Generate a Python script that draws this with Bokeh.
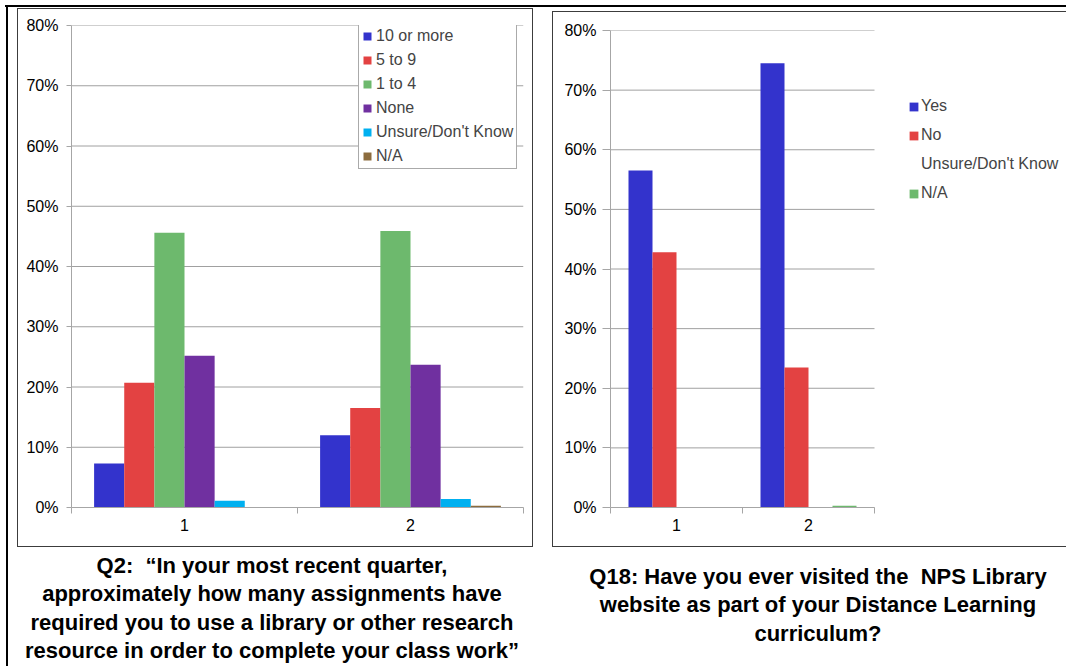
from bokeh.plotting import figure
from bokeh.models import (Range1d, FixedTicker, NumeralTickFormatter, Legend, LegendItem,
                          ColumnDataSource, Div, Spacer)
from bokeh.layouts import row, column
from bokeh.transform import dodge
from bokeh.embed import file_html
from bokeh.resources import INLINE

# ---- data -------------------------------------------------------------
categories = [1, 2]
category_labels = ["1", "2"]
pct_ticks = [0.0, 0.1, 0.2, 0.3, 0.4, 0.5, 0.6, 0.7, 0.8]

q2_series = ["10 or more", "5 to 9", "1 to 4", "None", "Unsure/Don't Know", "N/A"]
q2_ten_or_more = [0.073, 0.120]
q2_five_to_nine = [0.207, 0.165]
q2_one_to_four = [0.456, 0.459]
q2_none = [0.252, 0.237]
q2_unsure = [0.011, 0.014]
q2_na = [0.000, 0.003]
q2_colors = ["#3333CC", "#E34242", "#6DB96D", "#7030A0", "#00B0F0", "#8C6C3E"]

q18_series = ["Yes", "No", "Unsure/Don't Know", "N/A"]
q18_yes = [0.565, 0.745]
q18_no = [0.428, 0.235]
q18_unsure = [0.000, 0.000]
q18_na = [0.000, 0.003]
q18_colors = ["#3333CC", "#E34242", None, "#6DB96D"]

q2_title = ["Q2:&nbsp; \u201cIn your most recent quarter,",
            "approximately how many assignments have",
            "required you to use a library or other research",
            "resource in order to complete your class work\u201d"]
q18_title = ["Q18: Have you ever visited the&nbsp; NPS Library",
             "website as part of your Distance Learning",
             "curriculum?"]

FONT = "Liberation Sans"
GRID = "#A0A0A0"
AXIS = "#A6A6A6"
FRAME = "1px solid #3C3C3C"


def bar_chart(width, height, borders, series, values, colors, tick_out, tick_standoff,
              styles, legend_px=0):
    """Clustered column chart; legend_px widens the plot area to the right so an
    outside legend can sit there, while axis and grid stay on the categories."""
    left, right, top, bottom = borders
    chart_px = width - left - right - legend_px
    x_lo = categories[0] - 0.5
    x_hi = categories[-1] + 0.5
    x_end = x_lo + (x_hi - x_lo) * (chart_px + legend_px) / chart_px
    p = figure(width=width, height=height, output_backend="svg", toolbar_location=None,
               x_range=Range1d(x_lo, x_end), y_range=Range1d(0, pct_ticks[-1]),
               min_border_left=left, min_border_right=right,
               min_border_top=top, min_border_bottom=bottom, styles=styles)
    p.outline_line_color = None
    p.background_fill_color = "white"
    p.border_fill_color = "white"
    p.xgrid.grid_line_color = None
    p.ygrid.grid_line_color = None

    # horizontal gridlines spanning the category area only
    p.segment(x0=[x_lo] * len(pct_ticks), x1=[x_hi] * len(pct_ticks),
              y0=pct_ticks, y1=pct_ticks, line_color=GRID, line_width=1)

    # category axis: labels at the centres, tick marks on the category boundaries
    xa = p.xaxis[0]
    xa.bounds = (x_lo, x_hi)
    xa.ticker = FixedTicker(ticks=categories,
                            minor_ticks=[c - 0.5 for c in categories] + [x_hi])
    xa.major_label_overrides = {c: lab for c, lab in zip(categories, category_labels)}
    xa.major_tick_out = 0
    xa.major_tick_in = 0
    xa.minor_tick_out = 6
    xa.minor_tick_in = 0
    xa.minor_tick_line_color = AXIS
    xa.axis_line_color = AXIS
    xa.major_label_standoff = 5
    xa.major_label_text_font = FONT
    xa.major_label_text_font_size = "16px"
    xa.major_label_text_color = "black"

    ya = p.yaxis[0]
    ya.ticker = FixedTicker(ticks=pct_ticks)
    ya.formatter = NumeralTickFormatter(format="0%")
    ya.major_tick_out = tick_out
    ya.major_tick_in = 0
    ya.minor_tick_out = 0
    ya.minor_tick_in = 0
    ya.major_tick_line_color = AXIS
    ya.axis_line_color = AXIS
    ya.major_label_standoff = tick_standoff
    ya.major_label_text_font = FONT
    ya.major_label_text_font_size = "16px"
    ya.major_label_text_color = "black"

    n = len(series)
    bar_w = 1.0 / (n + 1.5)
    items = []
    for i, (name, vals, col) in enumerate(zip(series, values, colors)):
        src = ColumnDataSource(dict(x=categories, top=vals))
        off = (i - (n - 1) / 2.0) * bar_w
        r = p.vbar(x=dodge("x", off), top="top", bottom=0, width=bar_w, source=src,
                   fill_color=col, line_color=None)
        items.append(LegendItem(label=name, renderers=[r]))
    return p, items


def caption(lines, width, height, inner_w, pad_left, pad_top):
    style = ("width:%dpx;margin-left:%dpx;padding-top:%dpx;text-align:center;"
             "font-family:'Liberation Sans',Arial,sans-serif;font-weight:bold;"
             "font-size:22px;line-height:28.3px;white-space:nowrap;color:black"
             % (inner_w, pad_left, pad_top))
    return Div(text='<div style="%s">%s</div>' % (style, "<br>".join(lines)),
               width=width, height=height, margin=0)


def bar(w, h):
    return Div(text="", width=w, height=h, margin=0, styles={"background-color": "black"})


# ---- Q2 chart ---------------------------------------------------------
left_p, left_items = bar_chart(516, 539, (53, 11, 16, 41), q2_series,
                               [q2_ten_or_more, q2_five_to_nine, q2_one_to_four,
                                q2_none, q2_unsure, q2_na],
                               q2_colors, 5, 8, {"border": FRAME})
left_leg = Legend(items=left_items, location=(287, 338), orientation="vertical",
                  label_text_font=FONT, label_text_font_size="16px",
                  glyph_width=10, glyph_height=10, label_height=18, label_standoff=4,
                  label_width=135, spacing=6, padding=3, margin=0,
                  border_line_color="#555555", border_line_width=1,
                  background_fill_color="white", background_fill_alpha=1)
left_p.add_layout(left_leg)

# ---- Q18 chart --------------------------------------------------------
right_p, right_items = bar_chart(514, 536, (57, 0, 18, 41), q18_series,
                                 [q18_yes, q18_no, q18_unsure, q18_na],
                                 q18_colors, 8, 6,
                                 {"border-top": FRAME, "border-left": FRAME,
                                  "border-bottom": FRAME},
                                 legend_px=193)
right_leg = Legend(items=right_items, location=(298, 304), orientation="vertical",
                   label_text_font=FONT, label_text_font_size="16px",
                   glyph_width=11, glyph_height=11, label_height=20, label_standoff=2,
                   spacing=9, padding=0, margin=0,
                   border_line_color=None, background_fill_alpha=0)
right_p.add_layout(right_leg)

left_block = column(Spacer(height=1), left_p,
                    caption(q2_title, 516, 118, 510, 0, 5), spacing=0)
right_block = column(Spacer(height=4), right_p,
                     caption(q18_title, 514, 115, 496, 18, 16), spacing=0)

page = column(
    Spacer(height=5),
    row(Spacer(width=5), bar(1061, 2), spacing=0),
    row(Spacer(width=6), bar(2, 659), Spacer(width=9), left_block,
        Spacer(width=19), right_block, spacing=0),
    spacing=0,
)

open("out.html", "w").write(file_html(page, INLINE))
